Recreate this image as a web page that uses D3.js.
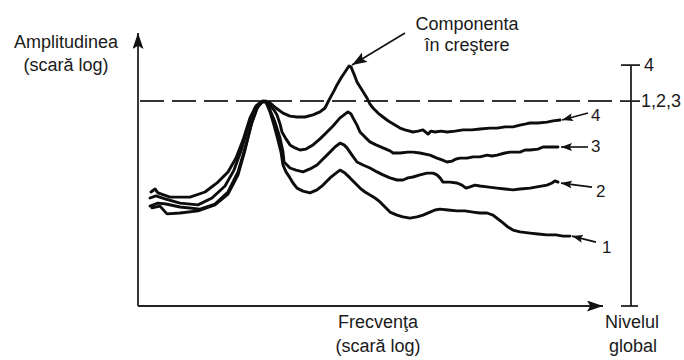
<!DOCTYPE html>
<html>
<head>
<meta charset="utf-8">
<script src="https://cdn.jsdelivr.net/npm/d3@7"></script>
<style>
  body { margin: 0; background: #fff; }
  text { font-family: "Liberation Sans", Arial, sans-serif; font-size: 18px; fill: #1a1a1a; }
</style>
</head>
<body>
<svg id="chart" width="684" height="360"></svg>
<script>
// spectre (frecventa, amplitudine), unitati arbitrare
const curve1 = [[2.8,32.7],[4.4,33.3],[5.8,30.7],[8.4,31],[12,31.7],[15.4,33.7],[18,37.3],[20,43.7],[21.4,52],[22.6,60.3],[23.8,66],[24.8,68],[25.6,68],
  [26.4,64.7],[27.2,60.3],[28,55.3],[28.6,51.3],[29,47],[29.6,44.7],[30.4,42.7],[31,41],[31.8,39.3],[33,38.3],[34.4,37.7],[35.8,38.7],[37,40.3],[38.4,42.7],
  [39.6,44.3],[40.4,45.3],[41.4,44.3],[42.4,42.7],[43.4,41],[44.4,39.3],[45.4,38],[46.4,37],[47.4,36],[48.4,34.7],[49.4,33],[50.4,31.3],[51.8,30.3],[53,29.7],
  [54.4,29.3],[55.8,29.7],[57,30.3],[58.4,31.3],[59.4,32],[60.4,32.3],[62,32],[63.8,31.7],[65.4,31.7],[67,31.3],[68.4,31],[69.8,31],[71,30.3],[72,29],
  [73,27.7],[74,26.3],[75,25.3],[76.4,24.7],[78.4,24.3],[80,24],[81.8,23.7],[83.6,23.7],[85,23.3],[86.4,23.3]]

const curve2 = [[2.4,33.3],[4,34.3],[5.6,34],[8.4,33],[12.4,32.3],[15.4,34],[18,38],[20,44.7],[21.6,53.7],[22.8,61.3],[24,66.7],[25,68.3],[25.6,68],
  [26.4,65.3],[27.4,61.3],[28.4,56],[29,51.3],[29.2,48],[30.4,46],[31.6,45.3],[33,44.7],[34.4,45.7],[35.8,47],[37,49],[38.4,51.3],[39.4,53],[40.4,54.3],
  [41.2,53.7],[41.8,52.7],[42.8,50.3],[43.8,48],[45,47],[46.4,46],[47.8,44.7],[49,43.7],[50.4,42.7],[51.8,42],[53,42],[54,42.7],[55,43],[56.4,43.7],
  [57.8,44.3],[59,44.3],[59.8,43.7],[60.4,42.7],[61,41.3],[62.4,41.3],[63.8,41],[64.8,40.3],[65.6,39.3],[66.4,39.7],[67.4,40.3],[68.4,40],[69.8,39.7],
  [71.8,39.3],[73.4,39],[75,38.7],[76.4,39],[78.4,39.3],[79.8,39.7],[81.8,40.3],[82.8,41],[83.4,41.7],[84,41.3]]

const curve3 = [[2.4,36],[3.6,36.7],[5.4,35.7],[8.4,34.3],[12,33.7],[14.8,36],[17.4,40],[19.2,45.3],[20.8,52.7],[22.2,60.7],[23.4,66],[24.6,68],[25.4,68.3],
  [26.4,66.7],[27.2,65.3],[27.8,63.7],[28.4,60.7],[28.8,58],[29.6,55.7],[30.4,53.7],[31.4,52.7],[32.4,52],[33.6,52.3],[35,53.7],[36.4,55.7],[37.8,58],
  [39,60],[40.4,62.7],[41.2,63.7],[42,64.7],[42.6,64],[43,62.7],[43.8,60.3],[44.4,58],[45.4,56.3],[46.4,54.7],[47.6,53.7],[49,52.7],[50.4,51.7],[51,51],
  [52.4,51],[54,51.3],[55,51.3],[56.4,51],[58.4,50.3],[59.8,49.3],[60.8,48.7],[61.8,48],[62.8,48.3],[63.6,49],[64.4,49.3],[65.8,49.3],[67,49.7],[68.4,49.7],
  [69.8,50.3],[70.8,50],[71.8,50.3],[73.4,51],[74.4,51.3],[75,51.3],[76.4,51.3],[77.4,52],[78.4,52],[80,52.3],[81,53],[81.8,53],[83,53],[84,53]]

const curve4 = [[2.6,38],[3.4,39],[4,37.7],[6.4,36.3],[10.4,36.3],[13.4,38],[16,41.3],[18,44.7],[19.6,49.3],[21,55.3],[22.4,62.7],[23.6,66.7],[24.8,68.3],
  [25.6,68.3],[26.4,67.7],[27.6,66],[29,64.3],[30.4,63.3],[31.8,63],[33.4,63],[35,63.7],[36.4,64.7],[37.4,66],[38,68],[38.4,69.3],[39.2,71.7],[39.8,73.7],
  [40.6,76],[41.4,78],[42.2,80],[42.6,79.7],[43.2,77.3],[43.8,74.7],[44.8,72],[45.8,69.3],[46.4,67.3],[47,66],[48,64.3],[49,63],[49.8,62],[50.4,61.3],
  [51.4,60.3],[52.4,59.3],[53.4,58.7],[55,58],[56,58.3],[57,58.7],[58,57.3],[58.6,58.3],[59.4,58],[60.6,58.3],[61.8,58],[63.4,58.3],[65,58.7],[66.8,58.7],
  [68.4,59],[70.4,59.3],[71.8,59.3],[73.4,59.7],[75,59.7],[76.4,60.3],[77.6,60.7],[78.4,61],[80,61],[81.8,61.3],[83,61.7],[84.4,62]]

const curveNames = ['1', '2', '3', '4']
const levelLabels = ['4', '1,2,3']
const levelValues = [80.3, 68.3]
const alarmLevel = 68.3
const componentPeak = [42.2, 80]

const W = 684, H = 360
const svg = d3.select('#chart')

// scari (frecventa si amplitudine, ambele "log" in original, fara gradatii)
const x = d3.scaleLinear().domain([0, 93]).range([138, 603])
const y = d3.scaleLinear().domain([0, 91]).range([306, 33])
const xLevel = x(98.6)

// varfuri de sageata
const defs = svg.append('defs')
function arrowMarker(id, len, wid) {
  defs.append('marker')
    .attr('id', id)
    .attr('markerUnits', 'userSpaceOnUse')
    .attr('viewBox', `0 0 ${len} ${wid}`)
    .attr('refX', len).attr('refY', wid / 2)
    .attr('markerWidth', len).attr('markerHeight', wid)
    .attr('orient', 'auto')
    .append('path')
    .attr('d', `M0,0L${len},${wid / 2}L0,${wid}L${len * 0.2},${wid / 2}Z`)
    .attr('fill', '#111')
}
arrowMarker('axisHead', 16, 11)
arrowMarker('bigHead', 15, 11)
arrowMarker('smallHead', 11, 8)

// axe
svg.append('line')
  .attr('x1', x(0)).attr('y1', y(0)).attr('x2', x(0)).attr('y2', y(91))
  .attr('stroke', '#222').attr('stroke-width', 1.8)
  .attr('marker-end', 'url(#axisHead)')
svg.append('line')
  .attr('x1', x(0)).attr('y1', y(0)).attr('x2', x(93)).attr('y2', y(0))
  .attr('stroke', '#222').attr('stroke-width', 1.8)
  .attr('marker-end', 'url(#axisHead)')

// nivel de alarma (linie intrerupta)
svg.append('line')
  .attr('x1', x(0.4)).attr('x2', xLevel - 10)
  .attr('y1', y(alarmLevel)).attr('y2', y(alarmLevel))
  .attr('stroke', '#333').attr('stroke-width', 2)
  .attr('stroke-dasharray', '24 8')

// scara nivelului global
const gLevel = svg.append('g')
gLevel.append('line')
  .attr('x1', xLevel).attr('x2', xLevel)
  .attr('y1', y(levelValues[0])).attr('y2', y(0))
  .attr('stroke', '#222').attr('stroke-width', 1.8)
gLevel.selectAll('line.tick')
  .data([...levelValues, 0])
  .join('line')
  .attr('class', 'tick')
  .attr('x1', xLevel - 10).attr('x2', (d, i) => xLevel + (i < 2 ? 9 : 7))
  .attr('y1', d => y(d)).attr('y2', d => y(d))
  .attr('stroke', '#222').attr('stroke-width', 1.8)
gLevel.selectAll('text')
  .data(levelLabels)
  .join('text')
  .attr('x', (d, i) => xLevel + (i === 0 ? 13 : 10))
  .attr('y', (d, i) => y(levelValues[i]) + 6)
  .text(d => d)

// spectre
const line = d3.line().x(d => x(d[0])).y(d => y(d[1])).curve(d3.curveLinear)
const curves = [curve1, curve2, curve3, curve4]
svg.append('g').selectAll('path')
  .data(curves)
  .join('path')
  .attr('d', line)
  .attr('fill', 'none')
  .attr('stroke', '#0d0d0d')
  .attr('stroke-width', 2.9)
  .attr('stroke-linejoin', 'round')
  .attr('stroke-linecap', 'round')

// etichete la capatul curbelor
const labelShift = [[2, 0, 24, 6, 6, 11], [3, 1, 31, 4, 4, 10], [3, 0, 27, 0, 3, 5], [2, 0, 26, -7, 3, 8]]
curves.forEach((c, i) => {
  const end = c[c.length - 1]
  const [dx, dy, len, rise, tx, ty] = labelShift[i]
  const tipX = x(end[0]) + dx, tipY = y(end[1]) + dy
  svg.append('line')
    .attr('x1', tipX + len).attr('y1', tipY + rise)
    .attr('x2', tipX).attr('y2', tipY)
    .attr('stroke', '#111').attr('stroke-width', 1.6)
    .attr('marker-end', 'url(#smallHead)')
  svg.append('text')
    .attr('x', tipX + len + tx).attr('y', tipY + rise + ty)
    .style('font-size', '17px')
    .text(curveNames[i])
})

// adnotare componenta in crestere
svg.append('line')
  .attr('x1', 405).attr('y1', 33)
  .attr('x2', x(componentPeak[0]) + 3).attr('y2', y(componentPeak[1]) - 1)
  .attr('stroke', '#111').attr('stroke-width', 1.6)
  .attr('marker-end', 'url(#bigHead)')
svg.append('text').attr('x', 467).attr('y', 30).attr('text-anchor', 'middle').text('Componenta')
svg.append('text').attr('x', 467).attr('y', 51).attr('text-anchor', 'middle').text('în creştere')

// titluri de axe
svg.append('text').attr('x', 66).attr('y', 48).attr('text-anchor', 'middle').text('Amplitudinea')
svg.append('text').attr('x', 66).attr('y', 71).attr('text-anchor', 'middle').text('(scară log)')
svg.append('text').attr('x', 378).attr('y', 328).attr('text-anchor', 'middle').text('Frecvenţa')
svg.append('text').attr('x', 378).attr('y', 352).attr('text-anchor', 'middle').text('(scară log)')
svg.append('text').attr('x', 632).attr('y', 328).attr('text-anchor', 'middle').text('Nivelul')
svg.append('text').attr('x', 633).attr('y', 352).attr('text-anchor', 'middle').text('global')
</script>
</body>
</html>
